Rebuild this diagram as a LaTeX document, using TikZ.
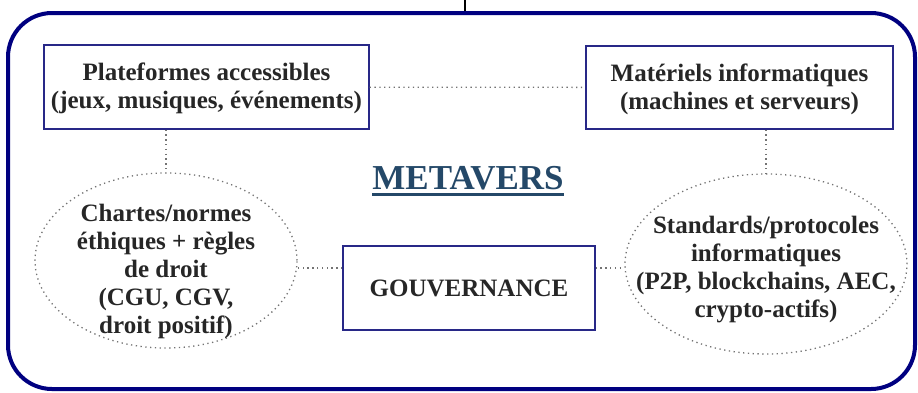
\documentclass[tikz,border=0pt]{standalone}
\usepackage{fontspec}
\setmainfont{Liberation Serif}
\usetikzlibrary{shapes.geometric}
\definecolor{navy}{RGB}{0,0,128}
\definecolor{boxblue}{RGB}{40,40,135}
\definecolor{titleblue}{RGB}{36,72,104}
\definecolor{dotgray}{RGB}{115,115,115}

\begin{document}
\begin{tikzpicture}[x=1pt,y=-1pt,text=black!85,font=\bfseries\fontsize{25}{28}\selectfont]
    \tikzstyle{frame}=[draw=navy,line width=4pt,rounded corners=44pt,minimum width=907,minimum height=376]
    \tikzstyle{block}=[rectangle,draw=boxblue,line width=1.3pt,align=center,inner sep=0pt]
    \tikzstyle{oval}=[ellipse,draw=dotgray,line width=1.3pt,dash pattern=on 1.3pt off 3.5pt,align=center]
    \tikzstyle{link}=[-,draw=dotgray,line width=1.3pt,dash pattern=on 1.3pt off 3.5pt]

    \useasboundingbox (0,0) rectangle (918,392);

    % Draw the outer frame and the line coming into it
    \node[frame] (cadre) at (461.5,201) {};
    \coordinate (fil) at (465,0);
    \draw[line width=1.2pt] (fil) -- (fil |- cadre.north);

    % Draw the title
    \node[inner sep=0pt,text=titleblue,font=\bfseries\fontsize{35}{40}\selectfont] (meta) at (468,178) {METAVERS};
    \draw[titleblue,line width=2.6pt] ([yshift=-5pt]meta.base west) -- ([yshift=-5pt]meta.base east);

    % Draw the boxes
    \node[block,minimum width=325,minimum height=84] (plat) at (206.5,87)
        {\rule{0pt}{21pt}Plateformes accessibles\\(jeux, musiques, événements)};
    \node[block,minimum width=307,minimum height=83] (mat) at (739.5,87.5)
        {\rule{0pt}{21pt}Matériels informatiques\\(machines et serveurs)};
    \node[block,minimum width=252,minimum height=84] (gouv) at (469,288) {GOUVERNANCE};

    % Draw the ellipses
    \node[oval,inner xsep=3pt,inner ysep=-17pt,minimum width=262,minimum height=175] (charte) at (166,260.5)
        {\rule{0pt}{40pt}Chartes/normes\\éthiques + règles\\de droit\\(CGU, CGV,\\droit positif)};
    \node[oval,inner xsep=-31pt,inner ysep=0pt,minimum width=282,minimum height=180] (std) at (766,264)
        {\rule{0pt}{28pt}Standards/protocoles\\informatiques\\(P2P, blockchains, AEC,\\crypto-actifs)};

    % Connect the blocks
    \path[link] (plat) edge (mat);
    \path[link] (charte.north |- plat.south) edge (charte);
    \path[link] (std.north |- mat.south) edge (std);
    \path[link] ([yshift=20pt]gouv.west) edge ([yshift=20pt]gouv.west -| charte.east);
    \path[link] ([yshift=20pt]gouv.east) edge ([yshift=20pt]gouv.east -| std.west);
\end{tikzpicture}
\end{document}
